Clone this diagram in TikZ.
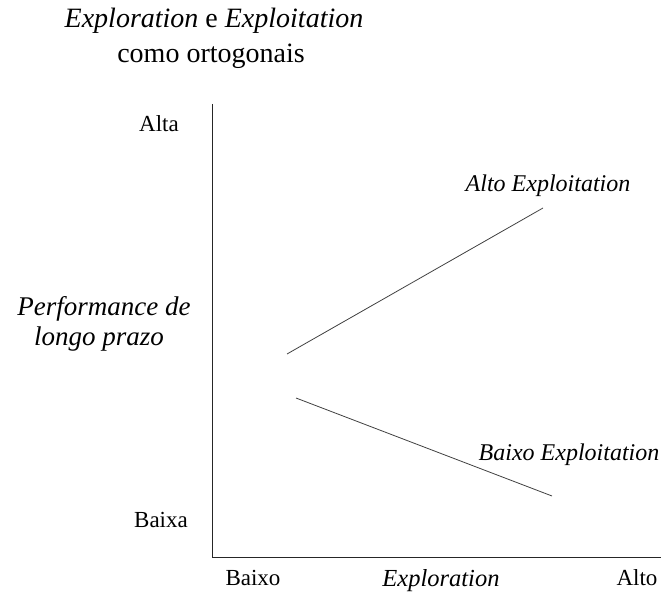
\documentclass[tikz,border=0pt]{standalone}
\usepackage{fontspec}
\setmainfont{Liberation Serif}
\begin{document}
\begin{tikzpicture}[x=1pt,y=-1pt,
  axis/.style={draw=black!85,line width=0.9pt},
  trend/.style={draw=black!75,line width=0.8pt},
  txt/.style={inner sep=0pt,anchor=base},
  lbl/.style={txt,font=\fontsize{23}{27}\selectfont},
  titlefont/.style={txt,font=\fontsize{28}{34}\selectfont},
  perffont/.style={txt,font=\fontsize{27}{31}\selectfont\itshape},
  xname/.style={txt,font=\fontsize{24.5}{29}\selectfont\itshape},
  curvename/.style={txt,font=\fontsize{24}{28}\selectfont\itshape}]
\useasboundingbox (0,0) rectangle (661,596);
% axes
\coordinate (top) at (212,104);
\coordinate (origin) at (212,557);
\coordinate (right) at (661,557);
\draw[axis] (top) -- (origin) -- (right);
% title
\node[titlefont] (title1) at (214,28) {\textit{Exploration} e \textit{Exploitation}};
\node[titlefont] (title2) at (211,63) {como ortogonais};
% y-axis labels
\node[lbl] (alta) at (159,132) {Alta};
\node[lbl] (baixa) at (161,527) {Baixa};
\node[perffont] (perf1) at (104,315) {Performance de};
\node[perffont] (perf2) at (99,345) {longo prazo};
% x-axis labels
\node[lbl] (baixo) at (253,585) {Baixo};
\node[xname] (expl) at (441,586) {Exploration};
\node[lbl] (alto) at (637,585) {Alto};
% trend lines
\coordinate (a1) at (287,354);
\coordinate (a2) at (543,208);
\coordinate (b1) at (296,398);
\coordinate (b2) at (552,496);
\draw[trend] (a1) -- (a2);
\draw[trend] (b1) -- (b2);
\node[curvename] (hi) at (548,192) {Alto Exploitation};
\node[curvename] (lo) at (569,460) {Baixo Exploitation};
\end{tikzpicture}
\end{document}
